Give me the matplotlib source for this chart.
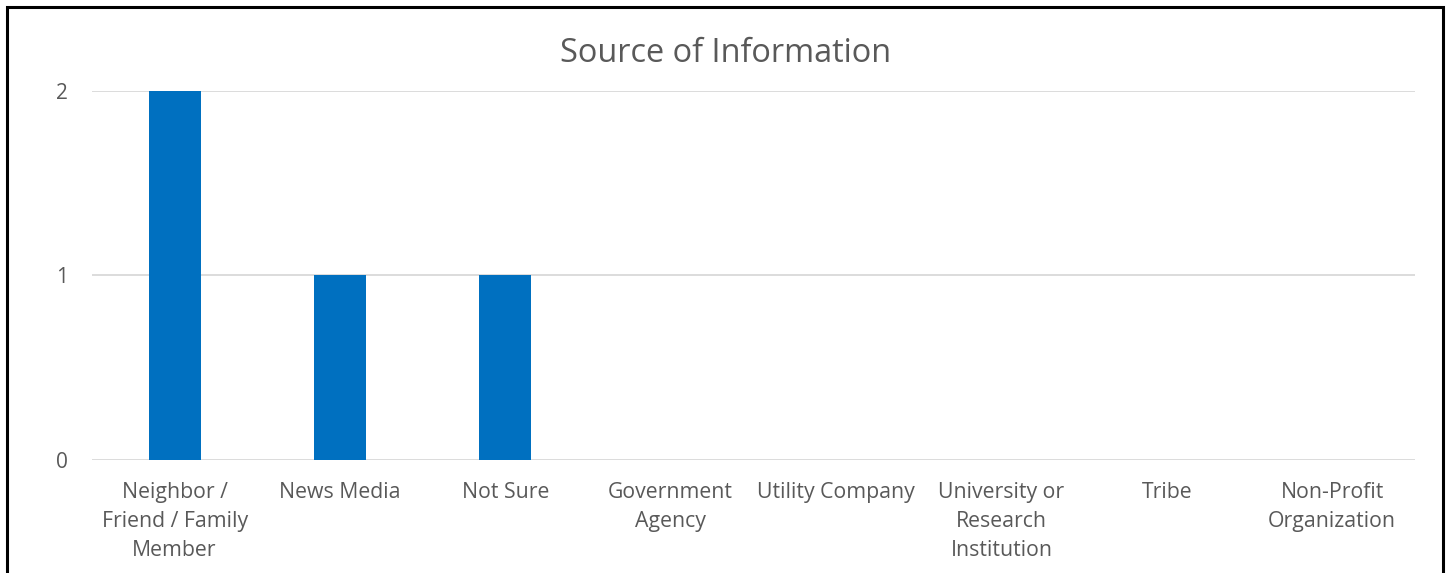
import numpy as np
import matplotlib.pyplot as plt
from matplotlib.patches import Rectangle

categories = ['Neighbor /\nFriend / Family\nMember', 'News Media', 'Not Sure',
              'Government\nAgency', 'Utility Company', 'University or\nResearch\nInstitution',
              'Tribe', 'Non-Profit\nOrganization']
counts = [2, 1, 1, 0, 0, 0, 0, 0]

plt.rcParams['font.family'] = ['Open Sans', 'DejaVu Sans']
grey = '#595959'

fig = plt.figure(figsize=(14.5, 5.73), dpi=100)
ax = fig.add_axes([0.0634, 0.1972, 0.9124, 0.644])

x = np.arange(len(categories))
ax.bar(x, counts, width=0.314, color='#0070c0', zorder=2)

ax.set_xlim(-0.5, len(categories) - 0.5)
ax.set_ylim(0, 2)
ax.set_yticks([0, 1, 2])
ax.set_xticks(x)
ax.set_xticklabels(categories, fontsize=15.3, color=grey, linespacing=1.5, va='top')
ax.tick_params(axis='y', labelsize=15, labelcolor=grey, length=0, pad=17)
ax.tick_params(axis='x', length=0, pad=16)
ax.grid(axis='y', color='#d9d9d9', linewidth=1.3, zorder=0)
for s in ax.spines.values():
    s.set_visible(False)

fig.text(0.5007, 0.907, 'Source of Information', ha='center', va='center',
         fontsize=23.4, color=grey)

# outer frame, bottom edge runs off the image
fig.patches.append(Rectangle((7 / 1450, -0.1), 1436 / 1450, 1.1 - 7 / 573,
                             transform=fig.transFigure, fill=False,
                             edgecolor='black', linewidth=2.2))

fig.savefig('out.png', dpi=100)
